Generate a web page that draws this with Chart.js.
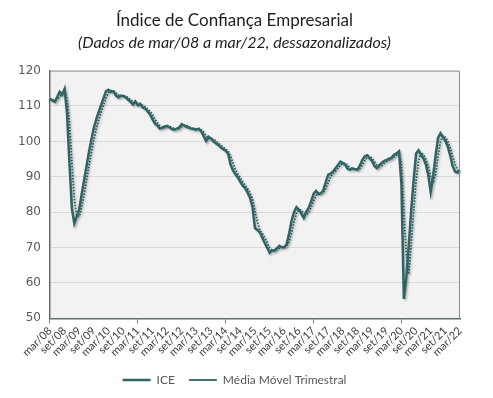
<!DOCTYPE html>
<html>
<head>
<meta charset="utf-8">
<script src="https://cdn.jsdelivr.net/npm/chart.js@4"></script>
<style>
  body { margin: 0; background: #fff; }
  #wrap { width: 493px; height: 398px; position: relative; }
</style>
</head>
<body>
<div id="wrap"><canvas id="chart"></canvas></div>
<script>
// monthly series, mar/08 .. mar/22
const monthNames = ["jan","fev","mar","abr","mai","jun","jul","ago","set","out","nov","dez"];
const startYear = 8, startMonth = 2, nMonths = 169;

const ice = [
  112, 111.6, 111.2, 112.6, 114, 113.2, 114.8, 108, 94, 81,
  76.8, 78.8, 80.8, 85, 89, 93, 97, 100.5, 103.8, 106.3,
  108.3, 110.3, 112.3, 114.2, 114.6, 114, 114.2, 113, 112.4, 112.9,
  112.9, 112.5, 111.8, 111.2, 110.4, 111.3, 110.2, 110.6, 109.6, 109.3,
  108.5, 107.6, 106.3, 105.1, 104.5, 103.6, 103.8, 104.2, 104.4, 104,
  103.5, 103.3, 103.6, 104, 104.9, 104.5, 104.1, 103.8, 103.6, 103.5,
  103.3, 103.6, 102.8, 101.5, 100.1, 101.3, 100.8, 100, 99.5, 99,
  98.3, 97.8, 97.4, 96.5, 93.5, 91.8, 90.7, 89.8, 88.6, 87.5,
  86.8, 85.5, 84, 81.5, 75.5, 75, 74.3, 72.8, 71.3, 70,
  68.5, 69.2, 69.2, 69.8, 70.5, 70.1, 70.1, 71, 74, 77.6,
  80, 81.4, 80.7, 79.6, 78.4, 80.1, 81.2, 83, 85.2, 86,
  85.1, 85.3, 86.2, 88.5, 90.6, 90.9, 91.5, 92.4, 93.3, 94.3,
  93.9, 93.4, 92.2, 92, 92.4, 92.1, 92, 93.2, 94.8, 95.8,
  96.1, 95.2, 94.4, 93, 92.4, 93.3, 94, 94.5, 94.8, 95.1,
  95.4, 96.2, 96.6, 97.2, 88, 55.5, 61.5, 70.5, 80.5, 89,
  96.5, 97.5, 96.3, 95.2, 93.5, 90.5, 85.7, 90.3, 96, 101,
  102.3, 101.2, 100.2, 98.5, 96, 93, 91.4, 91.2, 91.9
];

const mediaMovel = [
  112, 111.8, 111.6, 111.8, 112.6, 113.3, 114, 112, 105.6, 94.3,
  83.9, 78.9, 78.8, 81.5, 84.9, 89, 93, 96.8, 100.4, 103.5,
  106.1, 108.3, 110.3, 112.3, 113.7, 114.3, 114.3, 113.7, 113.2, 112.8,
  112.7, 112.8, 112.4, 111.8, 111.1, 111, 110.6, 110.7, 110.1, 109.8,
  109.1, 108.5, 107.5, 106.3, 105.3, 104.4, 104, 103.9, 104.1, 104.2,
  104, 103.6, 103.5, 103.6, 104.2, 104.5, 104.5, 104.1, 103.8, 103.6,
  103.5, 103.5, 103.2, 102.6, 101.5, 101, 100.7, 100.7, 100.1, 99.5,
  98.9, 98.4, 97.8, 97.2, 95.8, 93.9, 92, 90.8, 89.7, 88.6,
  87.6, 86.6, 85.4, 83.7, 80.3, 77.3, 74.9, 74, 72.8, 71.4,
  69.9, 69.2, 69, 69.4, 69.8, 70.1, 70.2, 70.4, 71.7, 74.2,
  77.2, 79.7, 80.7, 80.6, 79.6, 79.4, 79.9, 81.4, 83.1, 84.7,
  85.4, 85.5, 85.5, 86.7, 88.4, 90, 91, 91.6, 92.4, 93.3,
  93.8, 93.9, 93.2, 92.5, 92.2, 92.2, 92.2, 92.4, 93.3, 94.6,
  95.6, 95.7, 95.2, 94.2, 93.3, 92.9, 93.2, 93.9, 94.4, 94.8,
  95.1, 95.6, 96.1, 96.7, 93.9, 80.2, 68.3, 62.5, 70.8, 80,
  88.7, 94.3, 96.8, 96.3, 95, 93.1, 89.9, 88.8, 90.7, 95.8,
  99.8, 101.5, 101.2, 100, 98.2, 95.8, 93.5, 91.9, 91.5
];

const yTicks = [50, 60, 70, 80, 90, 100, 110, 120];

// month labels
const labels = [];
for (let i = 0; i < nMonths; i++) {
  let k = startMonth + i;
  let yy = startYear + Math.floor(k / 12);
  labels.push(monthNames[k % 12] + "/" + String(yy).padStart(2, "0"));
}

const lineColor = "#2f6464";

// grey plot background + top/right frame
const plotFrame = {
  id: "plotFrame",
  beforeDraw(chart) {
    const a = chart.chartArea, ctx = chart.ctx;
    ctx.save();
    ctx.fillStyle = "#f2f2f2";
    ctx.fillRect(a.left, a.top, a.right - a.left, a.bottom - a.top);
    ctx.restore();
  },
  afterDatasetsDraw(chart) {
    const a = chart.chartArea, ctx = chart.ctx;
    ctx.save();
    ctx.strokeStyle = "#8c8c8c";
    ctx.lineWidth = 1;
    ctx.beginPath();
    ctx.moveTo(a.left, a.top + 0.5);
    ctx.lineTo(a.right - 0.5, a.top + 0.5);
    ctx.lineTo(a.right - 0.5, a.bottom);
    ctx.stroke();
    ctx.restore();
  }
};

// soft shadow under the lines, like the spreadsheet version
const lineShadow = {
  id: "lineShadow",
  beforeDatasetDraw(chart) {
    const ctx = chart.ctx;
    ctx.save();
    ctx.shadowColor = "rgba(0,0,0,0.25)";
    ctx.shadowBlur = 2;
    ctx.shadowOffsetX = 1.5;
    ctx.shadowOffsetY = 1.5;
  },
  afterDatasetDraw(chart) {
    chart.ctx.restore();
  }
};

new Chart(document.getElementById("chart"), {
  type: "line",
  data: {
    labels: labels,
    datasets: [
      {
        label: "ICE",
        data: ice,
        borderColor: lineColor,
        borderWidth: 2.5,
        pointRadius: 0,
        tension: 0,
        fill: false
      },
      {
        label: "Média Móvel Trimestral",
        data: mediaMovel,
        borderColor: lineColor,
        borderWidth: 1.8,
        borderDash: [1.5, 1.5],
        pointRadius: 0,
        tension: 0,
        fill: false
      }
    ]
  },
  options: {
    responsive: true,
    maintainAspectRatio: false,
    animation: false,
    layout: { padding: { left: 9, right: 33, top: 4, bottom: 2 } },
    plugins: {
      title: {
        display: true,
        text: "Índice de Confiança Empresarial",
        color: "#1f1f1f",
        font: { family: "Lato", size: 17, weight: "normal" },
        padding: { top: 6, bottom: 3 }
      },
      subtitle: {
        display: true,
        text: "(Dados de mar/08 a mar/22, dessazonalizados)",
        color: "#1f1f1f",
        font: { family: "Lato", size: 16, style: "italic" },
        padding: { bottom: 18 }
      },
      legend: {
        position: "bottom",
        labels: {
          usePointStyle: true,
          pointStyle: "line",
          pointStyleWidth: 28,
          boxHeight: 8,
          color: "#595959",
          font: { family: "Lato", size: 12 },
          padding: 14
        }
      },
      tooltip: { enabled: false }
    },
    scales: {
      x: {
        grid: {
          drawOnChartArea: false,
          drawTicks: true,
          tickLength: 5,
          color: (c) => (c.index % 6 === 0 ? "#6b7878" : "rgba(0,0,0,0)")
        },
        border: { color: "#5f6e6e", width: 1.5 },
        ticks: {
          autoSkip: false,
          minRotation: 45,
          maxRotation: 45,
          padding: 1,
          color: "#404040",
          font: { family: "Lato", size: 11 },
          callback: function (v, i) { return i % 6 === 0 ? labels[i] : null; }
        }
      },
      y: {
        min: yTicks[0],
        max: yTicks[yTicks.length - 1],
        afterBuildTicks: (axis) => { axis.ticks = yTicks.map(v => ({ value: v })); },
        grid: {
          drawTicks: false,
          color: (c) => (c.tick && (c.tick.value === 50 || c.tick.value === 120) ? "rgba(0,0,0,0)" : "#d9d9d9")
        },
        border: { color: "#5f6e6e", width: 1.5 },
        ticks: {
          padding: 9,
          color: "#595959",
          font: { family: "DejaVu Sans", size: 12 }
        }
      }
    }
  },
  plugins: [plotFrame, lineShadow]
});
</script>
</body>
</html>
